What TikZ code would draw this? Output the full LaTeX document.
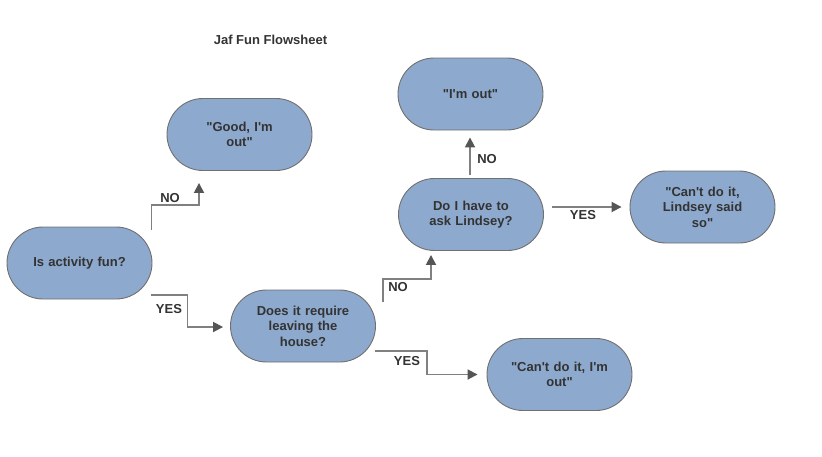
\documentclass[tikz,border=0pt]{standalone}
\usepackage{fontspec}
\setmainfont{Liberation Sans}[Ligatures=TeXOff]
\usetikzlibrary{calc,arrows.meta}
\definecolor{nodefill}{RGB}{141,169,205}
\definecolor{nodeborder}{RGB}{112,112,112}
\definecolor{txt}{RGB}{51,51,51}
\definecolor{linecol}{RGB}{128,128,128}
\definecolor{headcol}{RGB}{85,85,85}
\begin{document}
\begin{tikzpicture}[x=1pt,y=-1pt,
  term/.style={draw=nodeborder,line width=0.9pt,fill=nodefill,
    minimum width=145pt,minimum height=72pt,rounded corners=36pt,inner sep=0pt,
    text=txt,font=\fontsize{13}{15.5}\selectfont\bfseries,align=center,text width=120pt},
  arr/.style={draw=linecol,line width=1.8pt,
    -{Triangle[length=10pt,width=10pt,fill=headcol,color=headcol]}},
  lbl/.style={text=txt,font=\fontsize{13}{15}\selectfont\bfseries,inner sep=0pt}]
\useasboundingbox (0,0) rectangle (822,456);
\node[text=txt,font=\fontsize{13}{15}\selectfont\bfseries] (title) at (270.5,40) {Jaf Fun Flowsheet};
\node[term] (n1) at (79.5,263) {Is activity fun?};
\node[term] (n2) at (239.5,134.5) {"Good, I'm\\out"};
\node[term] (n3) at (303,326) {Does it require\\leaving the\\house?};
\node[term] (n4) at (471,214.5) {Do I have to\\ask Lindsey?};
\node[term] (n5) at (470.5,94) {"I'm out"};
\node[term] (n6) at (702.5,207) {"Can't do it,\\Lindsey said\\so"};
\node[term] (n7) at (559.5,374.5) {"Can't do it, I'm\\out"};
% connectors
\draw[arr] ($(n1.east)+(-1,-33)$) -- ++(0,-25) -| ($(n2.south)+(-40.5,12)$);
\draw[arr] ($(n1.east)+(-1,32)$) -- ++(36,0) |- ($(n3.west)+(-7,1)$);
\draw[arr] ($(n3.east)+(7,-24)$) -- ++(0,-23) -| ($(n4.south)+(-40,4)$);
\draw[arr] ($(n3.east)+(-1,25)$) -- ++(52,0) |- ($(n7.west)+(-9,0)$);
\draw[arr] ($(n4.north)+(-1,-3)$) -- ($(n5.south)+(-0.5,7)$);
\draw[arr] ($(n4.east)+(8,-7.5)$) -- ($(n6.west)+(-8,0)$);
% labels
\node[lbl] (l1) at (170,198) {NO};
\node[lbl] (l2) at (169,309) {YES};
\node[lbl] (l3) at (398,287) {NO};
\node[lbl] (l4) at (407,361) {YES};
\node[lbl] (l5) at (487,159) {NO};
\node[lbl] (l6) at (583,215) {YES};
\end{tikzpicture}
\end{document}
